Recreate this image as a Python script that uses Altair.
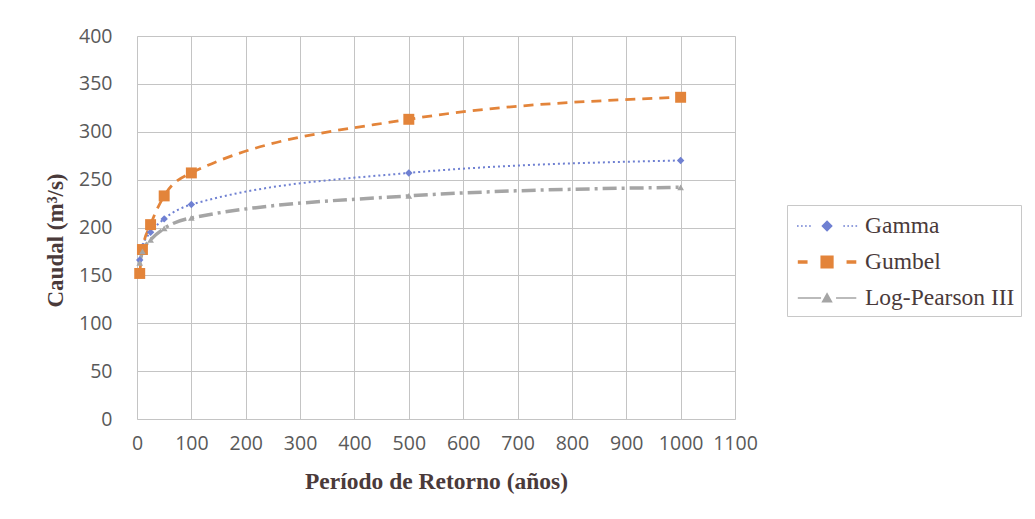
import altair as alt
import pandas as pd

periods = [5, 10, 25, 50, 100, 500, 1000]
gamma = [166, 180, 195, 209, 224, 257, 270]
gumbel = [152, 177, 203, 233, 257, 313, 336]
lp3 = [163, 175, 187, 199, 210, 233, 242]
series_names = ["Gamma", "Gumbel", "Log-Pearson III"]

rows = []
for name, vals in zip(series_names, [gamma, gumbel, lp3]):
    for t, v in zip(periods, vals):
        rows.append({"T": t, "Q": v, "serie": name, "leyenda": name})
df = pd.DataFrame(rows)

colors = ["#6f80d2", "#e3843a", "#a5a5a5"]
dashes = [[2, 3], [10, 7], [14, 5, 3, 5]]
marker_shapes = ["diamond", "square", "triangle-up"]
marker_sizes = [55, 120, 45]
line_widths = [2, 3.5, 2]

OX = 0.27  # horizontal shift of legend glyphs (units of 15 px)


def rect(x0, x1, h):
    x0 += OX
    x1 += OX
    return f"M{x0:.3f},{-h:.3f}L{x1:.3f},{-h:.3f}L{x1:.3f},{h:.3f}L{x0:.3f},{h:.3f}Z"


def gamma_glyph():
    parts = []
    for xx in [-0.95, -0.68, -0.41, -0.14, 2.14, 2.41, 2.68, 2.95]:
        parts.append(rect(xx - 0.055, xx + 0.055, 0.055))
    d = 0.38
    c = 1 + OX
    parts.append(f"M{c:.3f},{-d}L{c + d:.3f},0L{c:.3f},{d}L{c - d:.3f},0Z")
    return "".join(parts)


def gumbel_glyph():
    return rect(-0.95, -0.3, 0.12) + rect(2.3, 2.95, 0.12) + rect(0.56, 1.44, 0.44)


def lp3_glyph():
    d = 0.38
    c = 1 + OX
    tri = f"M{c:.3f},{-d}L{c + d:.3f},{d * 0.8:.3f}L{c - d:.3f},{d * 0.8:.3f}Z"
    return rect(-0.95, 0.6, 0.045) + rect(1.6, 2.95, 0.045) + tri


legend_glyphs = [gamma_glyph(), gumbel_glyph(), lp3_glyph()]

x = alt.X("T:Q", scale=alt.Scale(domain=[0, 1100], nice=False),
          axis=alt.Axis(values=list(range(0, 1101, 100)), format="d", labelOverlap=False,
                        labelFlush=False, title="Período de Retorno (años)",
                        labelFont="Open Sans", labelFontSize=19.5, labelColor="#595959",
                        titleFont="Liberation Serif", titleFontSize=23.5, titleFontWeight="bold",
                        titleColor="#4a3a3a", titlePadding=17, labelPadding=15,
                        ticks=False, domain=False, gridColor="#c4c4c4"))
y = alt.Y("Q:Q", scale=alt.Scale(domain=[0, 400], nice=False),
          axis=alt.Axis(values=list(range(0, 401, 50)), title="Caudal (m³/s)",
                        labelFont="Open Sans", labelFontSize=19.5, labelColor="#595959",
                        titleFont="Liberation Serif", titleFontSize=23, titleFontWeight="bold",
                        titleColor="#4a3a3a", titlePadding=11, labelPadding=25, titleY=204,
                        ticks=False, domain=False, gridColor="#c4c4c4"))

legend = alt.Legend(title=None, orient="none", legendX=650, legendY=169,
                    labelFont="Liberation Serif", labelFontSize=23.5, labelColor="#4a3a3a",
                    strokeColor="#c8c8c8", padding=6, rowPadding=9,
                    symbolSize=900, symbolStrokeWidth=0, symbolStrokeColor="transparent",
                    labelOffset=42, symbolOpacity=1)

color_plain = alt.Color("serie:N", scale=alt.Scale(domain=series_names, range=colors), legend=None)

lines = alt.Chart(df).mark_line(interpolate="monotone").encode(
    x=x, y=y, color=color_plain,
    strokeDash=alt.StrokeDash("serie:N", scale=alt.Scale(domain=series_names, range=dashes), legend=None),
    strokeWidth=alt.StrokeWidth("serie:N", scale=alt.Scale(domain=series_names, range=line_widths), legend=None),
)

point_layers = []
for name, shp, sz in zip(series_names, marker_shapes, marker_sizes):
    point_layers.append(
        alt.Chart(df).transform_filter(alt.datum.serie == name)
        .mark_point(filled=True, opacity=1, shape=shp, size=sz)
        .encode(x=x, y=y, color=color_plain)
    )

legend_layer = alt.Chart(df).transform_filter("datum.Q < 0").mark_point(
    filled=True, opacity=1, strokeWidth=0).encode(
    x=x, y=y,
    color=alt.Color("leyenda:N", scale=alt.Scale(domain=series_names, range=colors), legend=legend),
    shape=alt.Shape("leyenda:N", scale=alt.Scale(domain=series_names, range=legend_glyphs), legend=legend),
)

chart = alt.layer(lines, *point_layers, legend_layer).resolve_scale(
    color="independent", shape="independent"
).properties(
    width=598, height=383,
    autosize=alt.AutoSizeParams(type="none"),
    padding={"left": 137, "top": 36, "right": 300, "bottom": 100},
).configure_view(stroke="#bdbdbd", strokeWidth=1).configure(background="white")

chart.save("out.html", embed_options={"renderer": "svg", "actions": False})
